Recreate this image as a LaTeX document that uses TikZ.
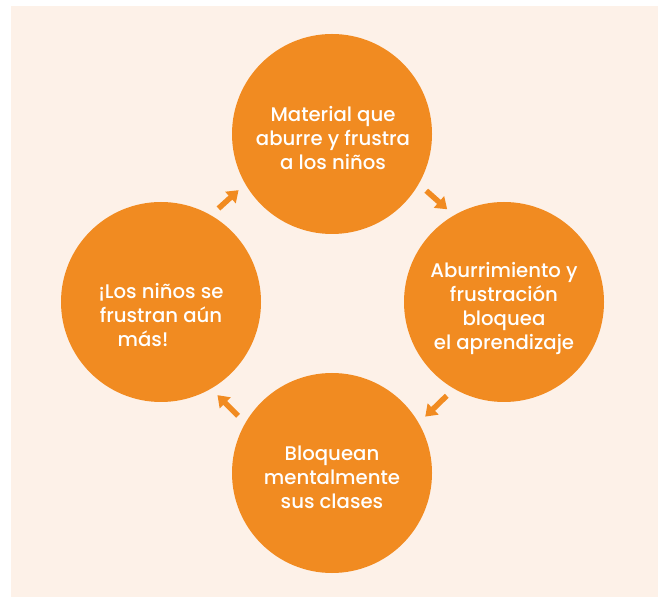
\documentclass[tikz,border=0pt]{standalone}
\usepackage{fontspec}
\setmainfont{Poppins Medium}
\usepackage{tikz}
\usetikzlibrary{arrows.meta}
\definecolor{naranja}{RGB}{241,139,33}
\definecolor{fondo}{RGB}{253,241,232}
\tikzset{>=latex}
\tikzset{circulo/.style = {circle, fill = naranja, minimum size = 200pt, inner sep = 0pt}}
\tikzset{texto/.style = {text = white, align = center, inner sep = 0pt, font = \fontsize{19.7}{24}\selectfont}}
\tikzset{flecha/.style = {-{Triangle[width = 15pt, length = 11pt]}, line width = 5.5pt, naranja, shorten <= 10pt, shorten >= 9pt}}

\begin{document}
\begin{tikzpicture}[x = 1pt, y = 1pt]
\useasboundingbox (0, 0) rectangle (658, 597);
\fill[fondo] (11, 0) rectangle (658, 591);
\node[circulo] (material) at (332, 463) {};
\node[circulo] (aburrimiento) at (504, 295) {};
\node[circulo] (bloquean) at (332, 124) {};
\node[circulo] (frustran) at (161, 295) {};
\node[texto] (materialtxt) at (333, 459) {Material que\\aburre y frustra\\a los niños};
\node[texto] (aburrimientotxt) at (504, 289) {Aburrimiento y\\frustración\\bloquea\hspace*{12pt}\\el aprendizaje};
\node[texto] (bloqueantxt) at (332, 120) {Bloquean\\mentalmente\\sus clases};
\node[texto] (frustrantxt) at (161, 282) {¡Los niños se\\frustran aún\\más!\hspace*{36pt}};
\draw[flecha] (material.-30) -- (aburrimiento.120);
\draw[flecha] (aburrimiento.-120) -- (bloquean.30);
\draw[flecha] (bloquean.150) -- (frustran.-60);
\draw[flecha] (frustran.60) -- (material.-150);
\end{tikzpicture}
\end{document}
